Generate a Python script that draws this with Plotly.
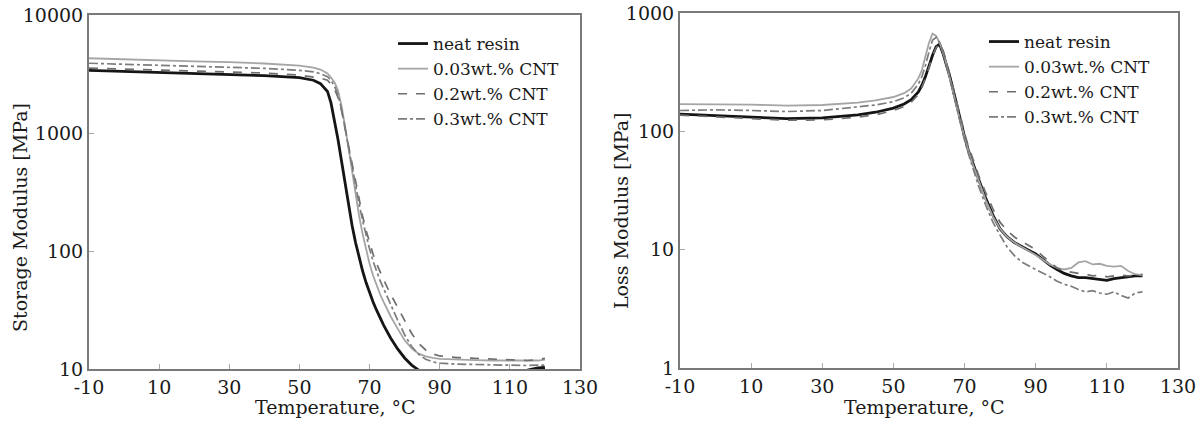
import plotly.graph_objects as go

# ---------------- data ----------------
series_names = ["neat resin", "0.03wt.% CNT", "0.2wt.% CNT", "0.3wt.% CNT"]

temp_storage = [-10, 0, 10, 20, 30, 40, 50, 54, 56, 58, 59, 60, 61, 62, 63, 64, 65, 66, 67, 68,
                69, 70, 71, 72, 73, 74, 76, 78, 80, 82, 84, 86, 88, 90, 95, 100, 105, 110, 115, 118, 120]

storage_neat = [3400, 3330, 3260, 3200, 3140, 3060, 2950, 2800, 2620, 2250, 1800, 1300, 880, 580, 380, 250,
                165, 118, 88, 68, 54, 44, 37, 31.5, 27, 23.5, 18.3, 14.8, 12.4, 10.8, 9.8, 9.6, 9.5, 9.4, 9.3,
                9.3, 9.3, 9.4, 9.8, 10.2, 10.3]
storage_003 = [4300, 4200, 4120, 4050, 3980, 3880, 3720, 3580, 3450, 3200, 2950, 2700, 2300, 1700, 1150, 750,
               480, 300, 200, 140, 102, 78, 62, 51, 43, 37, 28, 22, 17.5, 15, 13.5, 12.8, 12.4, 12.2, 12.0,
               11.9, 11.8, 11.8, 11.7, 11.8, 12.0]
storage_02 = [3550, 3480, 3420, 3360, 3300, 3220, 3100, 3000, 2920, 2800, 2600, 2350, 2000, 1550, 1100, 760,
              520, 370, 268, 198, 150, 117, 94, 78, 66, 57, 43, 33, 25.5, 20, 16.5, 14.5, 13.4, 12.9, 12.5,
              12.3, 12.1, 11.9, 11.8, 12.0, 12.3]
storage_03 = [3900, 3820, 3750, 3680, 3620, 3530, 3400, 3300, 3180, 3000, 2800, 2500, 2100, 1600, 1100, 750,
              500, 350, 250, 182, 136, 104, 82, 67, 56, 48, 35, 26, 19.5, 15.5, 13.3, 12.1, 11.5, 11.2, 11.0,
              10.9, 10.8, 10.8, 10.7, 10.8, 10.8]

temp_loss = [-10, 0, 10, 20, 30, 40, 45, 50, 53, 55, 57, 58, 59, 60, 61, 62, 63, 64, 65, 66, 67, 68, 69, 70,
             71, 72, 73, 74, 76, 78, 80, 82, 84, 86, 88, 90, 92, 94, 96, 98, 100, 102, 104, 106, 108, 110,
             112, 114, 116, 118, 120]

loss_neat = [140, 136, 132, 128, 130, 138, 145, 157, 170, 185, 215, 245, 290, 360, 440, 520, 545, 450, 360,
             280, 210, 155, 118, 90, 70, 57, 47, 39, 27, 19.5, 15, 12.8, 11.5, 10.6, 9.9, 9.2, 8.3, 7.4,
             6.8, 6.3, 6.0, 5.8, 5.8, 5.7, 5.6, 5.5, 5.7, 5.8, 5.9, 6.0, 6.0]
loss_003 = [170, 170, 168, 165, 167, 175, 183, 195, 210, 230, 280, 330, 420, 560, 670, 640, 560, 460, 360,
            275, 205, 152, 115, 88, 70, 56, 46, 38, 26, 19, 15, 12.8, 11.5, 10.6, 9.8, 9.0, 8.2, 7.5, 7.0,
            6.8, 7.0, 7.8, 8.0, 7.5, 7.6, 7.3, 7.2, 7.3, 6.6, 6.2, 6.1]
loss_02 = [137, 133, 128, 124, 125, 132, 138, 150, 162, 176, 205, 235, 280, 350, 430, 510, 550, 480, 380,
           295, 222, 165, 125, 96, 76, 62, 51, 42, 30, 22, 17, 14.5, 12.8, 11.8, 11.0, 10.0, 8.8, 7.8, 7.0,
           6.6, 6.4, 6.3, 6.2, 6.0, 6.1, 5.9, 6.0, 6.1, 6.0, 6.1, 6.2]
loss_03 = [150, 152, 150, 147, 150, 160, 167, 178, 192, 210, 250, 290, 360, 470, 590, 620, 560, 455, 355,
           270, 200, 148, 110, 84, 66, 52, 42, 34, 23.5, 17, 13.2, 10.5, 8.9, 7.9, 7.3, 6.8, 6.3, 5.9, 5.4,
           5.1, 4.9, 4.6, 4.4, 4.5, 4.3, 4.2, 4.4, 4.1, 3.9, 4.3, 4.4]

x_tick_vals = [-10, 10, 30, 50, 70, 90, 110, 130]
x_tick_text = ["-10", "10", "30", "50", "70", "90", "110", "130"]
storage_tick_vals = [10, 100, 1000, 10000]
storage_tick_text = ["10", "100", "1000", "10000"]
loss_tick_vals = [1, 10, 100, 1000]
loss_tick_text = ["1", "10", "100", "1000"]

x_title = "Temperature, °C"
storage_title = "Storage Modulus [MPa]"
loss_title = "Loss Modulus [MPa]"

# ---------------- styling ----------------
FONT = "DejaVu Serif"
TXT = "#1a1a1a"
W, H = 1199, 421
styles = [
    dict(color="#151515", width=2.8, dash="solid"),
    dict(color="#a5a5a5", width=1.8, dash="solid"),
    dict(color="#6e6e6e", width=1.7, dash="dash"),
    dict(color="#7c7c7c", width=1.7, dash="dashdot"),
]

fig = go.Figure()
storage_sets = [storage_neat, storage_003, storage_02, storage_03]
loss_sets = [loss_neat, loss_003, loss_02, loss_03]
for name, vals, st in zip(series_names, storage_sets, styles):
    fig.add_trace(go.Scatter(x=temp_storage, y=vals, mode="lines", name=name, line=st,
                             xaxis="x", yaxis="y", legend="legend"))
for name, vals, st in zip(series_names, loss_sets, styles):
    fig.add_trace(go.Scatter(x=temp_loss, y=vals, mode="lines", name=name, line=st,
                             xaxis="x2", yaxis="y2", legend="legend2"))

axis_common = dict(showline=True, mirror=True, linecolor="#7a7a7a", linewidth=2, showgrid=False,
                   zeroline=False, ticks="inside", ticklen=5, tickcolor="#aaaaaa", tickwidth=1,
                   automargin=False, ticklabeloverflow="allow",
                   tickfont=dict(family=FONT, size=19, color=TXT))


def px_x(p):
    return p / W


def px_y(p):
    return (H - p) / H


fig.update_layout(
    width=W, height=H, margin=dict(l=0, r=0, t=0, b=0, autoexpand=False),
    paper_bgcolor="white", plot_bgcolor="white",
    font=dict(family=FONT, color=TXT),
    xaxis=dict(domain=[px_x(89), px_x(580)], range=[-10, 130], tickvals=x_tick_vals, ticktext=x_tick_text,
               anchor="y", **axis_common),
    yaxis=dict(domain=[px_y(369), px_y(15)], type="log", range=[1, 4], tickvals=storage_tick_vals,
               ticktext=storage_tick_text, anchor="x", **axis_common),
    xaxis2=dict(domain=[px_x(680), px_x(1178)], range=[-10, 130], tickvals=x_tick_vals, ticktext=x_tick_text,
                anchor="y2", **axis_common),
    yaxis2=dict(domain=[px_y(368), px_y(13)], type="log", range=[0, 3], tickvals=loss_tick_vals,
                ticktext=loss_tick_text, anchor="x2", **axis_common),
    legend=dict(x=px_x(393), y=px_y(26), xanchor="left", yanchor="top", bgcolor="rgba(0,0,0,0)",
                font=dict(family=FONT, size=17, color=TXT), itemwidth=30, tracegroupgap=0),
    legend2=dict(x=px_x(984), y=px_y(24), xanchor="left", yanchor="top", bgcolor="rgba(0,0,0,0)",
                 font=dict(family=FONT, size=17, color=TXT), itemwidth=30, tracegroupgap=0),
    showlegend=True,
)

title_font = dict(family=FONT, size=19, color=TXT)
fig.add_annotation(text=x_title, xref="paper", yref="paper", x=px_x(335), y=px_y(407),
                   xanchor="center", yanchor="middle", showarrow=False, font=title_font)
fig.add_annotation(text=x_title, xref="paper", yref="paper", x=px_x(924), y=px_y(407),
                   xanchor="center", yanchor="middle", showarrow=False, font=title_font)
fig.add_annotation(text=storage_title, xref="paper", yref="paper", x=px_x(20), y=px_y(218),
                   xanchor="center", yanchor="middle", textangle=-90, showarrow=False, font=title_font)
fig.add_annotation(text=loss_title, xref="paper", yref="paper", x=px_x(621), y=px_y(211),
                   xanchor="center", yanchor="middle", textangle=-90, showarrow=False, font=title_font)

# remove the default 8px page margin so the figure fills the window exactly
fig.write_html("out.html", config={"displayModeBar": False},
               post_script="document.body.style.margin='0px';")
